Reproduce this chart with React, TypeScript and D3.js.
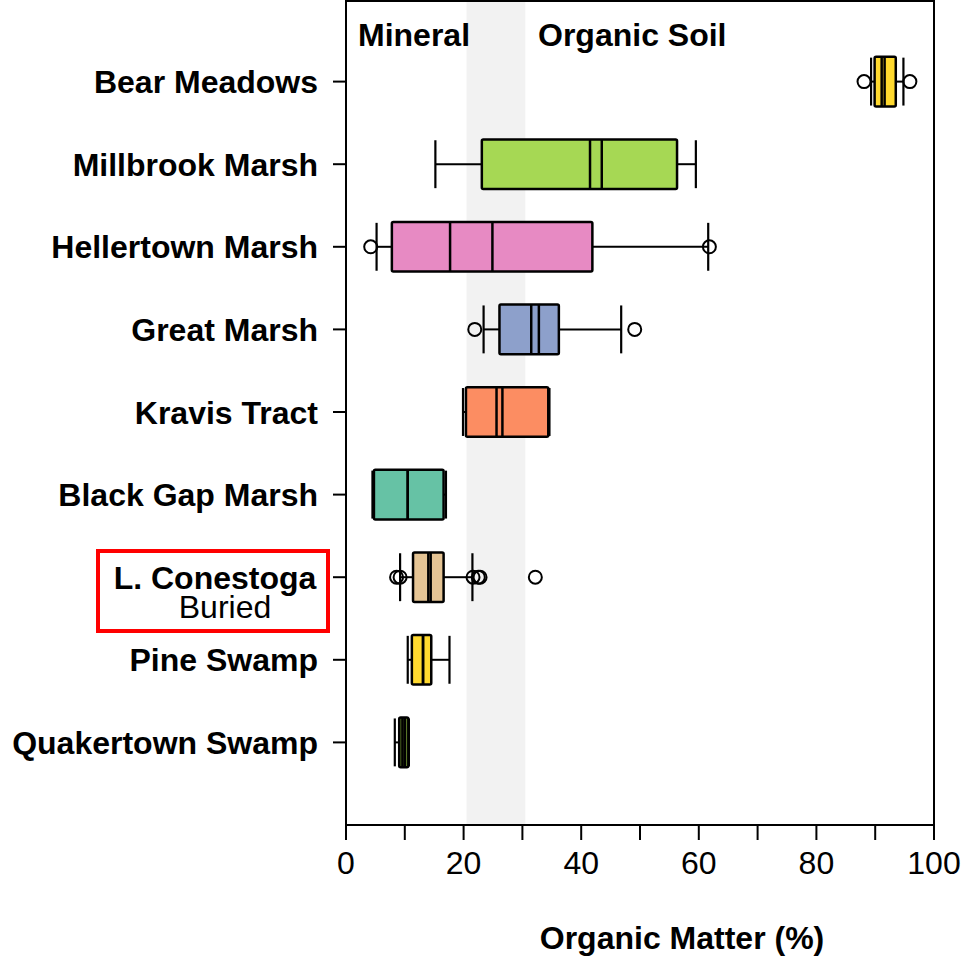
import React from "react";
import * as d3 from "d3";

const sites = ["Bear Meadows", "Millbrook Marsh", "Hellertown Marsh", "Great Marsh", "Kravis Tract", "Black Gap Marsh", "L. Conestoga", "Pine Swamp", "Quakertown Swamp"];
const colors = ["#FFD92F", "#A6D854", "#E78AC3", "#8DA0CB", "#FC8D62", "#66C2A5", "#E5C494", "#FFD92F", "#5E7B2A"];
const whiskerLo = [89.3, 15.2, 5.2, 23.4, 19.9, 4.5, 9.2, 10.5, 8.3];
const q1 = [89.9, 23.1, 7.8, 26.1, 20.4, 4.75, 11.4, 11.2, 9.05];
const medians = [91.1, 41.5, 17.7, 31.5, 25.6, 10.5, 14.0, 13.1, 9.6];
const means = [91.6, 43.5, 24.9, 32.8, 26.6, 10.5, 14.4, 13.1, 10.0];
const q3 = [93.5, 56.3, 41.9, 36.2, 34.4, 16.6, 16.6, 14.5, 10.6];
const whiskerHi = [94.8, 59.5, 61.6, 46.8, 34.6, 17.0, 21.5, 17.6, 10.7];
const outliers: number[][] = [[88.1, 95.9], [], [4.2, 61.8], [21.9, 49.1], [], [], [8.6, 9.2, 21.6, 22.5, 22.8, 32.2], [], []];
const xTicks = [0, 10, 20, 30, 40, 50, 60, 70, 80, 90, 100];
const xLabels = [0, 20, 40, 60, 80, 100];
const band = [20.5, 30.5];

export default function App() {
  const left = 346, right = 934, bottom = 825;
  const x = d3.scaleLinear().domain([0, 100]).range([left, right]);
  const y = d3.scaleLinear().domain([0, 10]).range([bottom, -1]);
  const top = 1;
  const pos = (i: number) => y(9 - i);
  const half = (y(0) - y(0.3));
  const capHalf = (y(0) - y(0.29));
  const font = "Liberation Sans, Arial, sans-serif";
  const fs = 32;
  return (
    <svg width={971} height={957} style={{ position: "absolute", left: 0, top: 0, background: "#fff" }} fontFamily={font}>
      <rect x={x(band[0])} y={top} width={x(band[1]) - x(band[0])} height={bottom - top} fill="#f2f2f2" />
      {sites.map((s, i) => {
        const cy = pos(i);
        return (
          <g key={s}>
            <line x1={x(whiskerLo[i])} x2={x(q1[i])} y1={cy} y2={cy} stroke="#000" strokeWidth={2} />
            <line x1={x(q3[i])} x2={x(whiskerHi[i])} y1={cy} y2={cy} stroke="#000" strokeWidth={2} />
            <line x1={x(whiskerLo[i])} x2={x(whiskerLo[i])} y1={cy - capHalf} y2={cy + capHalf} stroke="#000" strokeWidth={2.2} />
            <line x1={x(whiskerHi[i])} x2={x(whiskerHi[i])} y1={cy - capHalf} y2={cy + capHalf} stroke="#000" strokeWidth={2.2} />
            <rect x={x(q1[i])} y={cy - half} width={x(q3[i]) - x(q1[i])} height={2 * half} fill={colors[i]} stroke="#000" strokeWidth={2.5} rx={1.5} />
            <line x1={x(medians[i])} x2={x(medians[i])} y1={cy - half} y2={cy + half} stroke="#000" strokeWidth={2.5} />
            <line x1={x(means[i])} x2={x(means[i])} y1={cy - half} y2={cy + half} stroke="#000" strokeWidth={2.5} />
            {outliers[i].map((o, j) => (
              <circle key={j} cx={x(o)} cy={cy} r={6.5} fill="none" stroke="#000" strokeWidth={2} />
            ))}
            <line x1={left - 13} x2={left} y1={cy} y2={cy} stroke="#000" strokeWidth={2} />
            {s === "L. Conestoga" ? (
              <g>
                <text x={215} y={cy + 12} textAnchor="middle" fontSize={fs} fontWeight="bold">{s}</text>
                <text x={225} y={cy + 41} textAnchor="middle" fontSize={fs}>Buried</text>
                <rect x={98} y={551} width={230} height={80} fill="none" stroke="#ff0000" strokeWidth={4} />
              </g>
            ) : (
              <text x={318} y={cy + 11.5} textAnchor="end" fontSize={fs} fontWeight="bold">{s}</text>
            )}
          </g>
        );
      })}
      <rect x={left} y={top} width={right - left} height={bottom - top} fill="none" stroke="#000" strokeWidth={2} />
      {xTicks.map((t) => (
        <line key={t} x1={x(t)} x2={x(t)} y1={bottom} y2={bottom + 15} stroke="#000" strokeWidth={2} />
      ))}
      {xLabels.map((t) => (
        <text key={t} x={x(t)} y={874} textAnchor="middle" fontSize={fs}>{t}</text>
      ))}
      <text x={358} y={46} fontSize={fs} fontWeight="bold">Mineral</text>
      <text x={538} y={46} fontSize={fs} fontWeight="bold">Organic Soil</text>
      <text x={682} y={949} textAnchor="middle" fontSize={fs} fontWeight="bold">Organic Matter (%)</text>
    </svg>
  );
}
